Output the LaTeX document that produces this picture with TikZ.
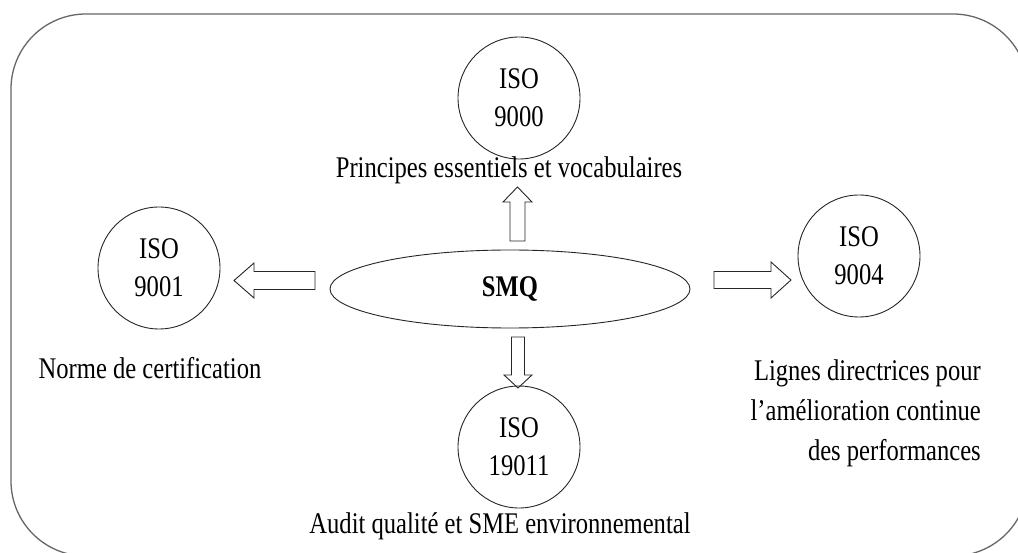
\documentclass[tikz,border=0pt]{standalone}
\usepackage{fontspec}
\setmainfont{Liberation Serif}[FakeStretch=0.82]
\usetikzlibrary{shapes.geometric,calc}

% tail, tip, head length, head half width, shaft half width
\newcommand\blkarrow[5]{%
  \coordinate (hb) at ($(#2)!#3!(#1)$);
  \draw[blockarrow] ($(#1)!#5!90:(#2)$) -- ($(hb)!#5!90:(#2)$) -- ($(hb)!#4!90:(#2)$)
    -- (#2) -- ($(hb)!#4!-90:(#2)$) -- ($(hb)!#5!-90:(#2)$) -- ($(#1)!#5!-90:(#2)$) -- cycle;}

\tikzset{
  frame/.style={draw=black!60, line width=1.3pt, rounded corners=75pt},
  isocircle/.style={circle, draw=black!85, line width=0.9pt, minimum size=122pt, inner sep=0pt,
    align=center, font=\fontsize{30}{38}\selectfont},
  lbl/.style={inner sep=0pt, font=\fontsize{30}{40}\selectfont},
  blockarrow/.style={draw=black!85, line width=0.9pt, line join=miter},
}

\begin{document}
\begin{tikzpicture}[x=1pt, y=-1pt]
\useasboundingbox (0,0) rectangle (1018,553);
\begin{scope}
  \clip (0,0) rectangle (1018,553);
  \draw[frame] (11,14) rectangle (1028,556);
\end{scope}

\node[isocircle] (iso9000) at (519,98) {ISO\\9000};
\node[isocircle] (iso9001) at (159,268) {ISO\\9001};
\node[isocircle] (iso9004) at (859,256) {ISO\\9004};
\node[isocircle] (iso19011) at (519,447) {ISO\\19011};

\node[ellipse, draw=black!85, line width=0.9pt, minimum width=360pt, minimum height=78pt,
  inner sep=0pt, font=\fontsize{30}{38}\selectfont\bfseries] (smq) at (510,289) {SMQ};

\node[lbl, anchor=base] (t9000) at (509,178) {Principes essentiels et vocabulaires};
\node[lbl, anchor=base] (t9001) at (150,378) {Norme de certification};
\node[lbl, anchor=base] (t19011) at (500,533) {Audit qualité et SME environnemental};
\node[lbl, align=right, anchor=north east] (t9004) at (981,359.5)
  {Lignes directrices pour\\l’amélioration continue\\des performances};

\coordinate (upA) at (517.5,241);
\coordinate (upB) at (517.5,187);
\coordinate (dnA) at (518,337);
\coordinate (dnB) at (518,388);
\coordinate (lfA) at (315,280.5);
\coordinate (lfB) at (234,280.5);
\coordinate (rtA) at (714,280);
\coordinate (rtB) at (791,280);

\blkarrow{upA}{upB}{15pt}{14.5pt}{7.5pt}
\blkarrow{dnA}{dnB}{13pt}{14pt}{6.5pt}
\blkarrow{lfA}{lfB}{20pt}{17.5pt}{9pt}
\blkarrow{rtA}{rtB}{20pt}{18pt}{8.5pt}
\end{tikzpicture}
\end{document}
